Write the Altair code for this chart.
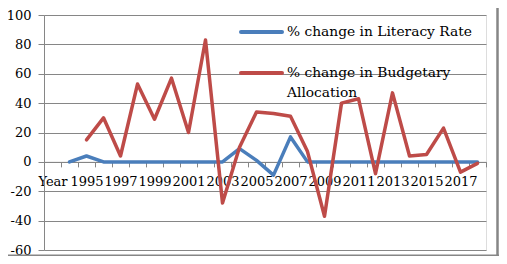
import altair as alt
import pandas as pd
import json

categories = ["Year", "1994", "1995", "1996", "1997", "1998", "1999", "2000", "2001",
              "2002", "2003", "2004", "2005", "2006", "2007", "2008", "2009", "2010",
              "2011", "2012", "2013", "2014", "2015", "2016", "2017", "2018"]
shown_labels = ["Year", "1995", "1997", "1999", "2001", "2003", "2005", "2007",
                "2009", "2011", "2013", "2015", "2017"]
literacy = [None, 0, 4, 0, 0, 0, 0, 0, 0, 0, 0, 9, 1, -9, 17,
            0, 0, 0, 0, 0, 0, 0, 0, 0, 0, 0]
budget = [None, None, 15, 30, 4, 53, 29, 57, 20, 83, -28, 10, 34, 33, 31,
          7, -37, 40, 43, -8, 47, 4, 5, 23, -7, -1]
series = ["% change in Literacy Rate", "% change in Budgetary Allocation"]
legend_lines = [["% change in Literacy Rate"], ["% change in Budgetary", "Allocation"]]
colors = ["#4A7EBB", "#BE4B48"]
y_ticks = [-60, -40, -20, 0, 20, 40, 60, 80, 100]

FONT = "DejaVu Serif"
GRID = "#868686"

rows = []
for c, a, b in zip(categories, literacy, budget):
    if a is not None:
        rows.append({"cat": c, "value": a, "series": series[0]})
    if b is not None:
        rows.append({"cat": c, "value": b, "series": series[1]})
df = pd.DataFrame(rows)

label_expr = "indexof(" + json.dumps(shown_labels) + ", datum.value) >= 0 ? datum.label : ''"

x_enc = alt.X(
    "cat:N", sort=categories, bandPosition=0.5,
    scale=alt.Scale(type="band", domain=categories, paddingInner=0, paddingOuter=0),
    axis=alt.Axis(title=None, orient="bottom", offset=-88.125, tickBand="extent",
                  labelExpr=label_expr, labelAngle=0, labelOverlap=False,
                  labelFont=FONT, labelFontSize=13, labelColor="black",
                  labelPadding=9, tickSize=5, tickColor=GRID, domainColor=GRID,
                  grid=False),
)
y_enc = alt.Y(
    "value:Q",
    scale=alt.Scale(domain=[-60, 100], nice=False, zero=False),
    axis=alt.Axis(title=None, values=y_ticks, grid=True, gridColor=GRID,
                  gridOpacity=1, domainColor=GRID, tickColor=GRID, tickSize=6,
                  labelPadding=7, labelFont=FONT, labelFontSize=13,
                  labelColor="black",
                  labelExpr="(datum.value < 0 ? '-' : '') + abs(datum.value)"),
)
color_enc = alt.Color("series:N", scale=alt.Scale(domain=series, range=colors), legend=None)

base = alt.Chart(df)
blue = base.transform_filter(alt.datum.series == series[0]).mark_line(
    strokeWidth=3.5, strokeJoin="round", strokeCap="round"
).encode(x=x_enc, y=y_enc, color=color_enc)
red = base.transform_filter(alt.datum.series == series[1]).mark_line(
    strokeWidth=3.5, strokeJoin="round", strokeCap="round"
).encode(x=x_enc, y=y_enc, color=color_enc)

one = pd.DataFrame({"k": [0]})
leg_blue_line = alt.Chart(one).mark_rule(strokeWidth=4, color=colors[0], strokeCap="round").encode(
    x=alt.value(197), x2=alt.value(238), y=alt.value(17))
leg_red_line = alt.Chart(one).mark_rule(strokeWidth=4, color=colors[1], strokeCap="round").encode(
    x=alt.value(197), x2=alt.value(238), y=alt.value(58))
leg_blue_text = alt.Chart(one).mark_text(align="left", baseline="middle", font=FONT,
                                         fontSize=13.8, color="black").encode(
    x=alt.value(243), y=alt.value(17), text=alt.value(legend_lines[0]))
leg_red_text = alt.Chart(one).mark_text(align="left", baseline="middle", font=FONT,
                                        fontSize=13.8, color="black", lineHeight=19.5).encode(
    x=alt.value(243), y=alt.value(58), text=alt.value(legend_lines[1]))

frame_right = alt.Chart(one).mark_rule(strokeWidth=2.5, color=GRID).encode(
    x=alt.value(453.5), y=alt.value(-8), y2=alt.value(241))
frame_bottom = alt.Chart(one).mark_rule(strokeWidth=1.5, color=GRID).encode(
    x=alt.value(-36), x2=alt.value(455), y=alt.value(240.2))

chart = alt.layer(
    blue, red, leg_blue_line, leg_red_line, leg_blue_text, leg_red_text,
    frame_right, frame_bottom
).properties(
    width=442, height=235,
    padding={"left": 36, "top": 7, "right": 13, "bottom": 6},
    autosize=alt.AutoSizeParams(type="none"),
).configure_view(stroke=None).configure(background="white")

chart.save("out.html", embed_options={"renderer": "svg", "actions": False})
